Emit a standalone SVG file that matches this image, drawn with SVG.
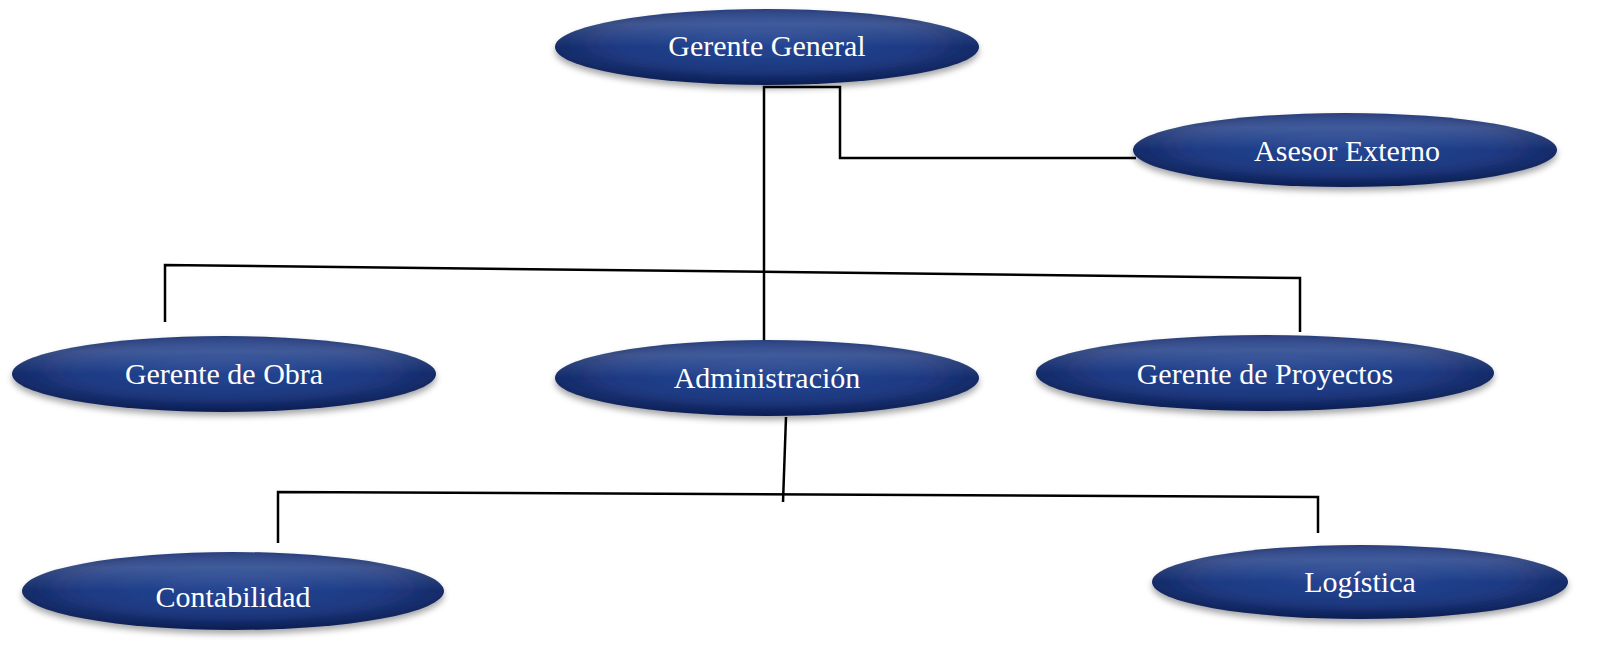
<svg xmlns="http://www.w3.org/2000/svg" width="1623" height="662" viewBox="0 0 1623 662">
<defs>
<radialGradient id="fillG" cx="0.5" cy="0.45" r="0.55">
<stop offset="0" stop-color="#1d3f8f"/>
<stop offset="0.65" stop-color="#163480"/>
<stop offset="1" stop-color="#0b1f5a"/>
</radialGradient>
<linearGradient id="sheen" x1="0" y1="0" x2="0" y2="1">
<stop offset="0" stop-color="#ffffff" stop-opacity="0.10"/>
<stop offset="0.2" stop-color="#ffffff" stop-opacity="0.18"/>
<stop offset="0.5" stop-color="#ffffff" stop-opacity="0.03"/>
<stop offset="1" stop-color="#000000" stop-opacity="0.10"/>
</linearGradient>
<filter id="shadow" x="-10%" y="-30%" width="120%" height="170%">
<feGaussianBlur in="SourceAlpha" stdDeviation="3"/>
<feOffset dx="0" dy="4" result="b"/>
<feFlood flood-color="#000" flood-opacity="0.35"/>
<feComposite in2="b" operator="in"/>
<feMerge><feMergeNode/><feMergeNode in="SourceGraphic"/></feMerge>
</filter>
</defs>
<style>
.node ellipse.body{fill:url(#fillG);filter:url(#shadow);}
.node ellipse.hl{fill:url(#sheen);}
.node text{font-family:"Liberation Serif","Times New Roman",serif;font-size:30px;fill:#ffffff;text-anchor:middle;}
.conn{fill:none;stroke:#000;stroke-width:2.5;}
</style>
<rect width="1623" height="662" fill="#ffffff"/>
<g id="connectors">
<polyline class="conn" points="764,340 764,87 840,87 840,158 1136,158"/>
<polyline class="conn" points="165,322 165,265 1300,278 1300,332"/>
<line class="conn" x1="786" y1="417" x2="783" y2="502"/>
<polyline class="conn" points="278,543 278,492 1318,497 1318,533"/>
</g>
<g id="gerente-general" class="node">
<ellipse class="body" cx="767" cy="47" rx="212" ry="38"/>
<ellipse class="hl" cx="767" cy="47" rx="212" ry="38"/>
<text x="767" y="56">Gerente General</text>
</g>
<g id="asesor-externo" class="node">
<ellipse class="body" cx="1345" cy="150" rx="212" ry="37"/>
<ellipse class="hl" cx="1345" cy="150" rx="212" ry="37"/>
<text x="1347" y="161">Asesor Externo</text>
</g>
<g id="gerente-obra" class="node">
<ellipse class="body" cx="224" cy="374" rx="212" ry="38"/>
<ellipse class="hl" cx="224" cy="374" rx="212" ry="38"/>
<text x="224" y="384">Gerente de Obra</text>
</g>
<g id="administracion" class="node">
<ellipse class="body" cx="767" cy="378" rx="212" ry="38"/>
<ellipse class="hl" cx="767" cy="378" rx="212" ry="38"/>
<text x="767" y="388">Administración</text>
</g>
<g id="gerente-proyectos" class="node">
<ellipse class="body" cx="1265" cy="373" rx="229" ry="38"/>
<ellipse class="hl" cx="1265" cy="373" rx="229" ry="38"/>
<text x="1265" y="384">Gerente de Proyectos</text>
</g>
<g id="contabilidad" class="node">
<ellipse class="body" cx="233" cy="591" rx="211" ry="39"/>
<ellipse class="hl" cx="233" cy="591" rx="211" ry="39"/>
<text x="233" y="607">Contabilidad</text>
</g>
<g id="logistica" class="node">
<ellipse class="body" cx="1360" cy="582" rx="208" ry="37"/>
<ellipse class="hl" cx="1360" cy="582" rx="208" ry="37"/>
<text x="1360" y="592">Logística</text>
</g>
</svg>
